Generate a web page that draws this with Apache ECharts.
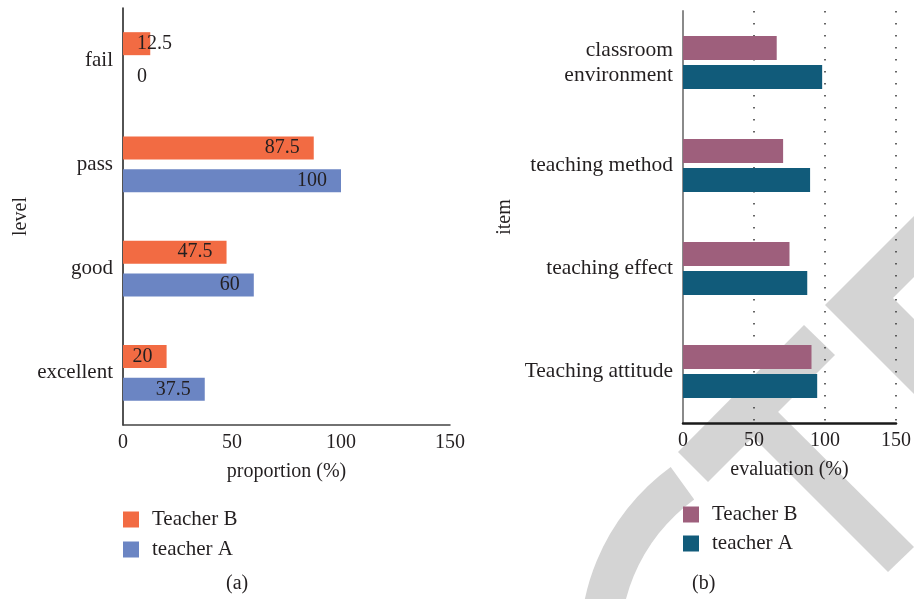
<!DOCTYPE html>
<html>
<head>
<meta charset="utf-8">
<script src="https://cdn.jsdelivr.net/npm/echarts@6/dist/echarts.min.js"></script>
<style>
  html, body { margin: 0; padding: 0; background: #ffffff; }
  #chart { width: 914px; height: 599px; }
</style>
</head>
<body>
<div id="chart"></div>
<script>
// ---- Data: panel (a) ----
const levelCategories = ['excellent', 'good', 'pass', 'fail'];
const levelTeacherB = [20, 47.5, 87.5, 12.5];
const levelTeacherA = [37.5, 60, 100, 0];

// ---- Data: panel (b) ----
const itemCategories = ['Teaching attitude', 'teaching effect', 'teaching method', 'classroom\nenvironment'];
const itemTeacherB = [90.5, 75, 70.5, 66];
const itemTeacherA = [94.5, 87.5, 89.5, 98];

const axisTicks = [0, 50, 100, 150];

const FONT = 'Liberation Serif';
const TXT = '#231f20';
const C_B1 = '#f26b43', C_A1 = '#6b85c3';
const C_B2 = '#9e5f7c', C_A2 = '#115b7a';
const WM = '#d4d4d4';

function labelData(vals) {
  return vals.map(v => v < 15
    ? { value: v, label: { position: 'insideLeft' } }
    : v);
}

const chart = echarts.init(document.getElementById('chart'), null, { renderer: 'canvas' });

const valueAxisBase = {
  type: 'value', min: axisTicks[0], max: axisTicks[axisTicks.length - 1], interval: 50,
  nameLocation: 'middle', nameGap: 37,
  nameTextStyle: { fontFamily: FONT, fontSize: 20, color: TXT },
  axisTick: { show: false },
  axisLabel: { fontFamily: FONT, fontSize: 20, color: TXT, margin: 8 }
};

const legendBase = {
  orient: 'vertical', itemWidth: 16, itemHeight: 16, padding: 0,
  icon: 'rect', selectedMode: false,
  formatter: n => n.split('|')[0],
  textStyle: { fontFamily: FONT, fontSize: 21, color: TXT, padding: [0, 0, 0, 8] }
};

const option = {
  backgroundColor: '#ffffff',
  animation: false,
  textStyle: { fontFamily: FONT },
  grid: [
    { left: 123, top: 8, width: 327, height: 417, containLabel: false },
    { left: 683, top: 11, width: 216, height: 412, containLabel: false }
  ],
  xAxis: [
    Object.assign({}, valueAxisBase, {
      gridIndex: 0, name: 'proportion (%)',
      axisLine: { show: true, lineStyle: { color: '#444', width: 1.5 } },
      splitLine: { show: false }
    }),
    Object.assign({}, valueAxisBase, {
      gridIndex: 1, name: 'evaluation (%)',
      axisLine: { show: true, lineStyle: { color: '#1a1a1a', width: 2.5 } },
      splitLine: { show: true, lineStyle: { color: '#333', width: 1.5, type: [1.5, 10.5] } }
    })
  ],
  yAxis: [
    {
      type: 'category', gridIndex: 0, data: levelCategories,
      name: 'level', nameLocation: 'middle', nameGap: 92,
      nameTextStyle: { fontFamily: FONT, fontSize: 20, color: TXT },
      axisLine: { show: true, lineStyle: { color: '#1a1a1a', width: 1.5 } },
      axisTick: { show: false },
      axisLabel: { fontFamily: FONT, fontSize: 21, color: TXT, margin: 10 }
    },
    {
      type: 'category', gridIndex: 1, data: itemCategories,
      name: 'item', nameLocation: 'middle', nameGap: 168,
      nameTextStyle: { fontFamily: FONT, fontSize: 20, color: TXT },
      axisLine: { show: true, lineStyle: { color: '#8a8a8a', width: 2 } },
      axisTick: { show: false },
      axisLabel: { fontFamily: FONT, fontSize: 21.5, color: TXT, margin: 10, lineHeight: 25 }
    }
  ],
  legend: [
    Object.assign({}, legendBase, {
      left: 123, top: 509, itemGap: 9,
      data: ['Teacher B|a', 'teacher A|a']
    }),
    Object.assign({}, legendBase, {
      left: 683, top: 504, itemGap: 8,
      data: ['Teacher B|b', 'teacher A|b']
    })
  ],
  graphic: [
    { type: 'polygon', z: -10, silent: true,
      shape: { points: [[914, 216], [825, 305], [914, 394], [914, 319], [893, 298], [914, 277]] },
      style: { fill: WM } },
    { type: 'polygon', z: -10, silent: true,
      shape: { points: [[804, 325], [835, 355], [708, 482], [678, 452]] },
      style: { fill: WM } },
    { type: 'polygon', z: -10, silent: true,
      shape: { points: [[763, 397], [914, 547], [888, 572], [738, 422]] },
      style: { fill: WM } },
    { type: 'sector', z: -10, silent: true,
      shape: { cx: 800, cy: 645, r0: 180, r: 220, startAngle: Math.PI * 0.95, endAngle: Math.PI * 1.3, clockwise: true },
      style: { fill: WM } },
    { type: 'text', left: 226, top: 574,
      style: { text: '(a)', fontFamily: FONT, fontSize: 20, fill: TXT } },
    { type: 'text', left: 692, top: 574,
      style: { text: '(b)', fontFamily: FONT, fontSize: 20, fill: TXT } }
  ],
  series: [
    {
      name: 'Teacher B|a', type: 'bar', xAxisIndex: 0, yAxisIndex: 0,
      data: labelData(levelTeacherB), barWidth: 23, barGap: '43%',
      itemStyle: { color: C_B1 },
      label: { show: true, position: 'insideRight', distance: 14, fontFamily: FONT, fontSize: 20, color: TXT }
    },
    {
      name: 'teacher A|a', type: 'bar', xAxisIndex: 0, yAxisIndex: 0,
      data: labelData(levelTeacherA), barWidth: 23, barGap: '43%',
      itemStyle: { color: C_A1 },
      label: { show: true, position: 'insideRight', distance: 14, fontFamily: FONT, fontSize: 20, color: TXT }
    },
    {
      name: 'Teacher B|b', type: 'bar', xAxisIndex: 1, yAxisIndex: 1,
      data: itemTeacherB, barWidth: 24, barGap: '21%',
      itemStyle: { color: C_B2 }
    },
    {
      name: 'teacher A|b', type: 'bar', xAxisIndex: 1, yAxisIndex: 1,
      data: itemTeacherA, barWidth: 24, barGap: '21%',
      itemStyle: { color: C_A2 }
    }
  ]
};

chart.setOption(option);
</script>
</body>
</html>
